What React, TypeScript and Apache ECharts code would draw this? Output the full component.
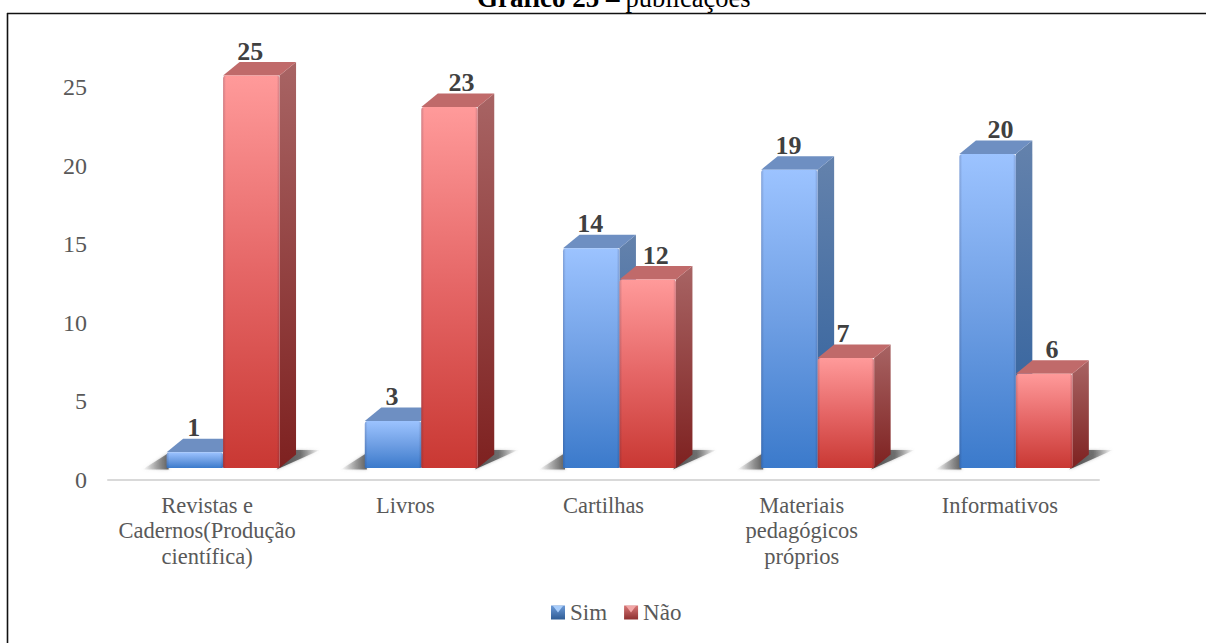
import React, { useEffect, useRef } from "react";
import * as echarts from "echarts";

const categories = [
  "Revistas e\nCadernos(Produção\ncientífica)",
  "Livros",
  "Cartilhas",
  "Materiais\npedagógicos\npróprios",
  "Informativos",
];
const simValues = [1, 3, 14, 19, 20];
const naoValues = [25, 23, 12, 7, 6];
const yTicksMax = 25;
const yTicksInterval = 5;

// horizontal nudges of the value labels, as hand-placed in the reference
const simLabelNudge = [-1, -1, -1, -1, 13];
const naoLabelNudge = [-1, 12, 8, -3, 8];

const FONT = '"Liberation Serif", serif';
const TEXT = "#595959";

const vgrad = (a: string, b: string, mid?: string) => ({
  type: "linear", x: 0, y: 0, x2: 0, y2: 1,
  colorStops: mid
    ? [{ offset: 0, color: a }, { offset: 0.5, color: mid }, { offset: 1, color: b }]
    : [{ offset: 0, color: a }, { offset: 1, color: b }],
});
const hgrad = (stops: [number, string][]) => ({
  type: "linear", x: 0, y: 0, x2: 1, y2: 0,
  colorStops: stops.map(([offset, color]) => ({ offset, color })),
});

const BLUE = {
  front: vgrad("#9CC3FF", "#3B7ACB", "#6F9FE4"),
  side: vgrad("#6482AC", "#2C5E9C"),
  top: "#6E8FC2",
};
const RED = {
  front: vgrad("#FF9A9A", "#C93833", "#E56666"),
  side: vgrad("#A86464", "#7E2120"),
  top: "#C06A6A",
};

const BAR_W = 56.5 / 198.4;
const DEPTH_X = 16.5;
const DEPTH_Y = 13.5;
const FLOOR = 11.5;

const makeRender = (palette: typeof BLUE, slot: number, nudges: number[]) => (_p: any, api: any) => {
  const idx = api.value(0);
  const val = api.value(1);
  const band = api.size([1, 0])[0];
  const w = band * BAR_W;
  const c0 = api.coord([idx, 0]);
  const c1 = api.coord([idx, val]);
  const cx = c0[0];
  const x0 = slot === 0 ? cx - 40.5 : cx + 16;
  const x1 = x0 + w;
  const base = c0[1] - FLOOR;
  const top = c1[1] - FLOOR;
  const dx = DEPTH_X;
  const dy = DEPTH_Y;
  const children: any[] = [];
  const soft = { shadowBlur: 3, shadowColor: "rgba(110,110,110,0.55)" };
  if (slot === 0) {
    children.push({
      type: "polygon",
      shape: { points: [[x0 - 24, base + 1.5], [x0 + 2, base - 15], [x0 + 2, base + 1.5]] },
      style: { fill: hgrad([[0, "rgba(120,120,120,0)"], [1, "rgba(85,85,85,0.9)"]]), ...soft },
    });
  } else {
    children.push({
      type: "polygon",
      shape: { points: [[x1 - 3, base + 1.5], [x1 + dx - 2, base - dy - 4.5], [x1 + dx + 24, base - dy - 4.5]] },
      style: { fill: hgrad([[0, "rgba(70,70,70,0.95)"], [0.55, "rgba(90,90,90,0.8)"], [1, "rgba(120,120,120,0)"]]), ...soft },
    });
  }
  children.push(
    {
      type: "polygon",
      shape: { points: [[x1, top], [x1 + dx, top - dy], [x1 + dx, base - dy], [x1, base]] },
      style: { fill: palette.side },
    },
    {
      type: "polygon",
      shape: { points: [[x0, top], [x0 + dx, top - dy], [x1 + dx, top - dy], [x1, top]] },
      style: { fill: palette.top },
    },
    {
      type: "rect",
      shape: { x: x0, y: top, width: w, height: base - top, r: [3, 3, 1, 1] },
      style: { fill: palette.front },
    },
    {
      type: "rect",
      shape: { x: x0, y: top, width: w, height: base - top, r: [3, 3, 1, 1] },
      style: {
        fill: hgrad([
          [0, "rgba(30,30,60,0.2)"],
          [0.05, "rgba(30,30,60,0)"],
          [0.95, "rgba(30,30,60,0)"],
          [1, "rgba(30,30,60,0.2)"],
        ]),
      },
    },
    {
      type: "text",
      style: {
        text: String(val),
        x: x0 + w / 2 + nudges[idx],
        y: top - dy + 2,
        align: "center",
        verticalAlign: "bottom",
        fontFamily: FONT,
        fontWeight: "bold",
        fontSize: 26,
        fill: "#404040",
      },
    }
  );
  return { type: "group", children };
};

const toData = (vals: number[]) => vals.map((v, i) => [i, v]);

export default function App() {
  const ref = useRef<HTMLDivElement>(null);
  useEffect(() => {
    const chart = echarts.init(ref.current!, undefined, { renderer: "svg" });
    chart.setOption({
      animation: false,
      backgroundColor: "#fff",
      grid: { left: 108, top: 87, width: 991, height: 392.5 },
      xAxis: {
        type: "category",
        data: categories,
        axisTick: { show: false },
        axisLine: { lineStyle: { color: "#D9D9D9", width: 2 } },
        axisLabel: {
          color: TEXT, fontFamily: FONT, fontSize: 22.5, margin: 13, lineHeight: 25.5, interval: 0,
        },
      },
      yAxis: {
        type: "value",
        min: 0,
        max: yTicksMax,
        interval: yTicksInterval,
        splitLine: { show: false },
        axisLine: { show: false },
        axisTick: { show: false },
        axisLabel: { color: TEXT, fontFamily: FONT, fontSize: 24, margin: 21 },
      },
      legend: {
        left: 546,
        top: 596,
        itemWidth: 14,
        itemHeight: 14,
        itemGap: 17,
        icon: "rect",
        textStyle: { color: TEXT, fontFamily: FONT, fontSize: 23 },
        data: [
          { name: "Sim", itemStyle: { color: vgrad("#6D9BD8", "#2F5C95") } },
          { name: "Não", itemStyle: { color: vgrad("#D77676", "#8E3030") } },
        ],
      },
      graphic: [
        {
          type: "text",
          left: 477,
          top: -16,
          style: {
            text: "{b|Gráfico 25 –} {n|publicações}",
            fontFamily: FONT,
            fontSize: 24,
            rich: {
              b: { fontFamily: FONT, fontWeight: "bold", fontSize: 27, fill: "#000" },
              n: { fontFamily: FONT, fontSize: 26.5, fill: "#000" },
            },
          },
          z: 1,
        },
        { type: "line", shape: { x1: 7, y1: 13.5, x2: 1206, y2: 13.5 }, style: { stroke: "#111", lineWidth: 1.6 }, z: 2 },
        { type: "line", shape: { x1: 7.5, y1: 13, x2: 7.5, y2: 643 }, style: { stroke: "#111", lineWidth: 1.6 }, z: 2 },
        { type: "polygon", shape: { points: [[553, 606], [563, 606], [558, 612.5]] }, style: { fill: "#A8CDFB" }, z: 6 },
        { type: "polygon", shape: { points: [[626, 606], [636, 606], [631, 612.5]] }, style: { fill: "#F2A6A6" }, z: 6 },
      ],
      series: [
        { name: "Sim", type: "custom", renderItem: makeRender(BLUE, 0, simLabelNudge), data: toData(simValues), encode: { x: 0, y: 1 }, z: 3 },
        { name: "Não", type: "custom", renderItem: makeRender(RED, 1, naoLabelNudge), data: toData(naoValues), encode: { x: 0, y: 1 }, z: 4 },
      ],
    });
    return () => chart.dispose();
  }, []);
  return <div ref={ref} style={{ position: "fixed", left: 0, top: 0, width: 1206, height: 643 }} />;
}
